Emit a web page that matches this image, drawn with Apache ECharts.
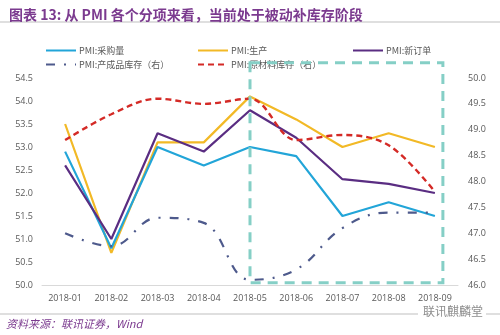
<!DOCTYPE html>
<html><head><meta charset="utf-8">
<script src="https://cdn.jsdelivr.net/npm/echarts@6/dist/echarts.min.js"></script>
<style>html,body{margin:0;padding:0;background:#fff}#c{width:500px;height:335px}</style>
</head><body><div id="c"></div>
<script>
const categories = ['2018-01','2018-02','2018-03','2018-04','2018-05','2018-06','2018-07','2018-08','2018-09'];
const purchase = [52.9, 50.8, 53.0, 52.6, 53.0, 52.8, 51.5, 51.8, 51.5];
const production = [53.5, 50.7, 53.1, 53.1, 54.1, 53.6, 53.0, 53.3, 53.0];
const newOrders = [52.6, 51.0, 53.3, 52.9, 53.8, 53.2, 52.3, 52.2, 52.0];
const finishedInv = [47.0, 46.75, 47.3, 47.2, 46.1, 46.3, 47.1, 47.4, 47.4];
const rawInv = [48.8, 49.3, 49.6, 49.5, 49.6, 48.8, 48.9, 48.7, 47.8];
const leftTicks = {min: 50, max: 54.5, interval: 0.5};
const rightTicks = {min: 46, max: 50, interval: 0.5};
const names = ['PMI:采购量','PMI:生产','PMI:新订单','PMI:产成品库存（右）','PMI:原材料库存（右）'];

const chart = echarts.init(document.getElementById('c'));
const font = '"Noto Sans CJK SC", "Noto Sans", sans-serif';
const axisLabel = {color:'#595959', fontSize:9, fontFamily:'"Open Sans", "Noto Sans", sans-serif'};
function lg(name, left, top){
  return {data:[name], left:left, top:top, itemWidth:30, itemHeight:8, itemGap:0,
    itemStyle:{opacity:0, borderWidth:0},
    textStyle:{color:'#595959', fontSize:9, fontFamily:font, padding:[0,0,0,-2]}};
}
const option = {
  animation:false,
  title:{text:'图表 13: 从 PMI 各个分项来看，当前处于被动补库存阶段', left:4, top:3,
    textStyle:{color:'#7b3a8f', fontSize:14, fontWeight:'bold', fontFamily:font}},
  legend:[lg(names[0],40,41), lg(names[1],192,41), lg(names[2],347,41), lg(names[3],40,55), lg(names[4],192,55)],
  grid:{left:42, right:42, top:78, bottom:50, containLabel:false},
  xAxis:{type:'category', data:categories, boundaryGap:true,
    axisLine:{lineStyle:{color:'#d9d9d9'}}, axisTick:{show:false},
    axisLabel:Object.assign({margin:9, interval:0}, axisLabel)},
  yAxis:[
    {type:'value', min:leftTicks.min, max:leftTicks.max, interval:leftTicks.interval,
     splitLine:{show:false}, axisLine:{show:false}, axisTick:{show:false},
     axisLabel:Object.assign({formatter:v=>v.toFixed(1), margin:9}, axisLabel)},
    {type:'value', min:rightTicks.min, max:rightTicks.max, interval:rightTicks.interval,
     splitLine:{show:false}, axisLine:{show:false}, axisTick:{show:false},
     axisLabel:Object.assign({formatter:v=>v.toFixed(1), margin:10}, axisLabel)}
  ],
  series:[
    {name:names[0], type:'line', data:purchase, symbol:'none', lineStyle:{color:'#22a5d8', width:2.2}, itemStyle:{color:'#22a5d8'}, z:3},
    {name:names[1], type:'line', data:production, symbol:'none', lineStyle:{color:'#f2b926', width:2.2}, itemStyle:{color:'#f2b926'}, z:2},
    {name:names[2], type:'line', data:newOrders, symbol:'none', lineStyle:{color:'#5a2d82', width:2.2}, itemStyle:{color:'#5a2d82'}, z:4},
    {name:names[3], type:'line', yAxisIndex:1, data:finishedInv, symbol:'none', smooth:0.4,
      lineStyle:{color:'#4e5a8c', width:2.2, type:[9,9,2,9]}, itemStyle:{color:'#4e5a8c'}},
    {name:names[4], type:'line', yAxisIndex:1, data:rawInv, symbol:'none', smooth:0.35,
      lineStyle:{color:'#d42a26', width:2.4, type:[6,4]}, itemStyle:{color:'#d42a26'}, z:5}
  ]
};
chart.setOption(option);
const x0 = chart.convertToPixel({xAxisIndex:0}, '2018-05');
const x1 = chart.convertToPixel({xAxisIndex:0}, '2018-09') + 8;
const y0 = chart.convertToPixel({yAxisIndex:0}, 54.83);
const y1 = chart.convertToPixel({yAxisIndex:0}, 50.05);
chart.setOption({graphic:[
  {type:'line', shape:{x1:0,y1:22,x2:500,y2:22}, style:{stroke:'#bfbfbf', lineWidth:1}},
  {type:'rect', shape:{x:x0, y:y0, width:x1-x0, height:y1-y0}, z:10,
   style:{fill:null, stroke:'#85cfc6', lineWidth:3, lineDash:[10,7]}},
  {type:'line', shape:{x1:0,y1:314,x2:500,y2:314}, style:{stroke:'#bfbfbf', lineWidth:1}},
  {type:'text', left:6, top:318, style:{text:'资料来源：联讯证券，Wind', fill:'#7b3a8f', font:'italic 11px '+font}},
  {type:'rect', shape:{x:418,y:305,width:68,height:16}, style:{fill:'#fff'}},
  {type:'text', left:423, top:305, style:{text:'联讯麒麟堂', fill:'#8c8c8c', font:'12px '+font}}
]});
</script></body></html>
